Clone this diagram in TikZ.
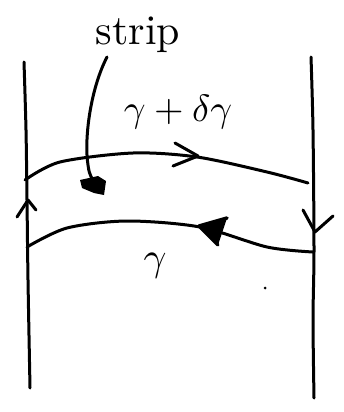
\documentclass[tikz,border=0pt]{standalone}
\usepackage{graphicx}
\begin{document}
\begin{tikzpicture}[x=1pt,y=-1pt,line width=3pt,line cap=round,line join=round,
  ink/.style={draw=black},
  lbl/.style={inner sep=0pt}]
\useasboundingbox (0,0) rectangle (344,412);
% vertical lines
\draw[ink] plot[smooth] coordinates {(24,62) (26,130) (27,200) (28,280) (30,388)};
\draw[ink] plot[smooth] coordinates {(311,57) (313,130) (314,250) (313,320) (314,398)};
% upper curve gamma + delta gamma
\draw[ink] plot[smooth] coordinates {(25,180) (60,162) (133,153) (197,157) (267,172) (308,183)};
% lower curve gamma
\draw[ink] plot[smooth] coordinates {(27,247) (67,228) (127,221) (200,227) (267,247) (313,252)};
% arrowheads
\draw[ink] (175,143) -- (198,156) -- (173,166);
\draw[ink,fill=black,line width=3.5pt] (227,218) -- (199,226) -- (218,245);
\draw[ink] (17,217) -- (28,200) -- (36,210);
\draw[ink] (303,210) -- (315,232) -- (333,216);
% strip pointer
\node[lbl] (strip) at (138,35) {\scalebox{4.2}{strip}};
\coordinate (ps) at (107,57);
\coordinate (pe) at (93,181);
\draw[ink] (ps) .. controls (90,90) and (84,140) .. (88,165) .. controls (89,172) .. (pe);
\fill[black] (80,180) -- (98,176) -- (106,181) -- (104,195) -- (94,193) -- (82,188) -- cycle;
% labels
\node[lbl] (gdg) at (178,112) {\scalebox{3.8}{$\gamma+\delta\gamma$}};
\node[lbl] (g) at (155,266) {\scalebox{4}{$\gamma$}};
\fill (265,288) circle (1.5);
\end{tikzpicture}
\end{document}
